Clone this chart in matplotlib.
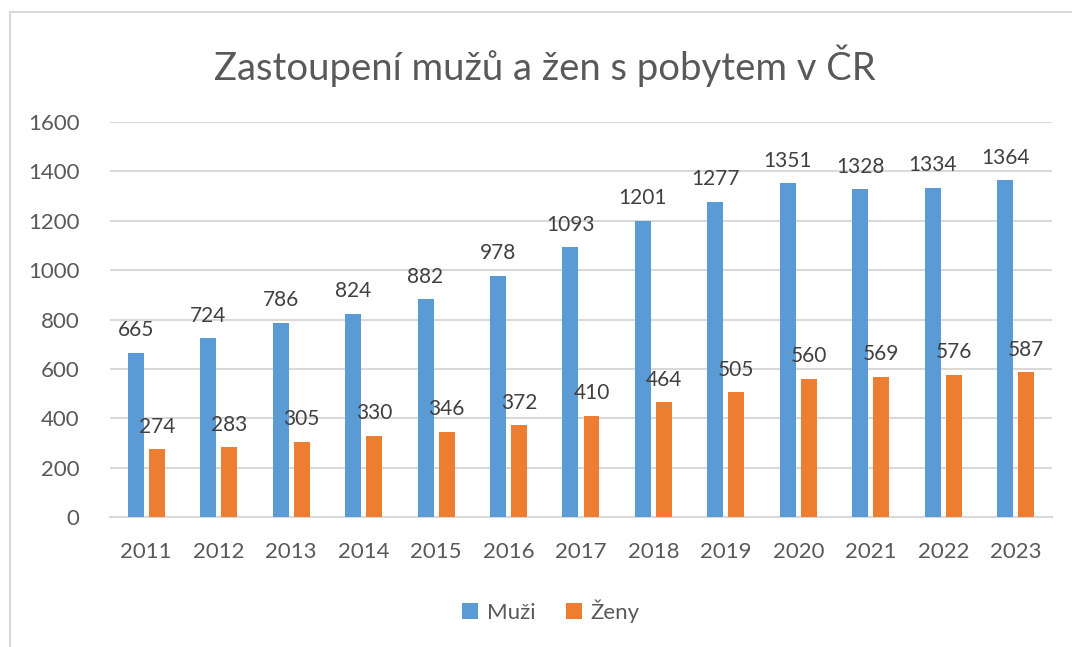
import matplotlib.pyplot as plt
import numpy as np
from matplotlib.lines import Line2D

plt.rcParams['font.family'] = ['Lato', 'DejaVu Sans']

years = ['2011', '2012', '2013', '2014', '2015', '2016', '2017',
         '2018', '2019', '2020', '2021', '2022', '2023']
muzi = [665, 724, 786, 824, 882, 978, 1093, 1201, 1277, 1351, 1328, 1334, 1364]
zeny = [274, 283, 305, 330, 346, 372, 410, 464, 505, 560, 569, 576, 587]

blue = '#5B9BD5'
orange = '#ED7D31'
grid_col = '#D9D9D9'
txt = '#595959'

fig = plt.figure(figsize=(10.72, 6.47), dpi=100)
ax = fig.add_axes([0.1026, 0.2009, 0.8787, 0.6105])

x = np.arange(len(years))
w = 0.22
off = 0.145
b1 = ax.bar(x - off, muzi, w, color=blue, label='Muži', zorder=3)
b2 = ax.bar(x + off, zeny, w, color=orange, label='Ženy', zorder=3)

for rects, vals in [(b1, muzi), (b2, zeny)]:
    for r, v in zip(rects, vals):
        ax.annotate(str(v), (r.get_x() + r.get_width() / 2, v),
                    xytext=(0, 9), textcoords='offset points',
                    ha='center', va='bottom', fontsize=15, color='#404040')

ax.set_xlim(-0.5, len(years) - 0.5)
ax.set_ylim(0, 1600)
ax.set_yticks(np.arange(0, 1601, 200))
ax.set_xticks(x)
ax.set_xticklabels(years)
ax.yaxis.grid(True, color=grid_col, linewidth=1.5, zorder=0)
ax.tick_params(axis='both', length=0, labelsize=16, labelcolor=txt)
ax.tick_params(axis='x', pad=18)
ax.tick_params(axis='y', pad=22)
for s in ['top', 'right', 'left']:
    ax.spines[s].set_visible(False)
ax.spines['bottom'].set_color(grid_col)
ax.spines['bottom'].set_linewidth(1.5)

fig.text(0.508, 0.899, 'Zastoupení mužů a žen s pobytem v ČR',
         ha='center', va='center', fontsize=27.5, color=txt)

fig.legend(handles=[b1, b2], labels=['Muži', 'Ženy'], loc='center',
           bbox_to_anchor=(0.514, 0.0556), ncol=2, frameon=False,
           fontsize=16, labelcolor=txt, handlelength=0.7, handleheight=0.7,
           handletextpad=0.4, columnspacing=1.4)

# chart border (top and left, as in the screenshot)
fig.add_artist(Line2D([10 / 1072, 10 / 1072], [0, 1 - 12 / 647],
                      color=grid_col, linewidth=1.5, transform=fig.transFigure))
fig.add_artist(Line2D([10 / 1072, 1], [1 - 12 / 647, 1 - 12 / 647],
                      color=grid_col, linewidth=1.5, transform=fig.transFigure))

fig.savefig('out.png', dpi=100)
